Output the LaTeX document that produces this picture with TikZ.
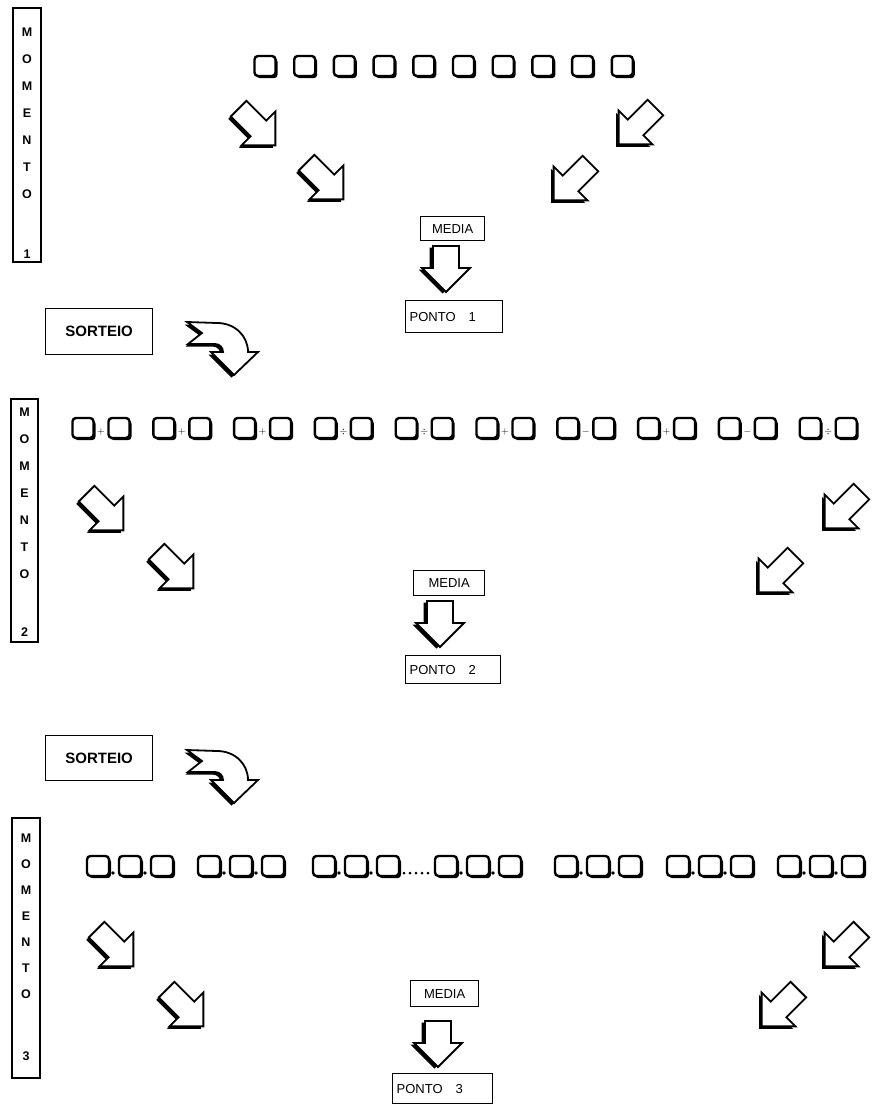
\documentclass[tikz,border=0pt]{standalone}
\usepackage{fontspec}
\setmainfont{Liberation Sans}
\tikzset{
  lbox/.style={draw, line width=1.3pt},
  momtxt/.style={font=\fontsize{12.5}{12.5}\selectfont\bfseries, inner sep=0pt},
  btxt/.style={font=\fontsize{13}{13}\selectfont, inner sep=0pt},
  sbtxt/.style={font=\fontsize{15}{15}\selectfont\bfseries, inner sep=0pt},
  optxt/.style={font=\fontsize{10}{10}\selectfont\bfseries, inner sep=0pt},
}
% square with shadow, centre x y, width w
\newcommand\sqq[3]{%
  \fill[rounded corners=3.5pt] (#1-#3/2+2,#2-10+2.2) rectangle (#1+#3/2+2,#2+10+2.2);
  \filldraw[fill=white,line width=2.4pt,rounded corners=3.5pt] (#1-#3/2,#2-10) rectangle (#1+#3/2,#2+10);}
% block arrow: centre x y, rotation
\newcommand\arrp{(-26,-11) -- (2,-11) -- (2,-24) -- (26,0) -- (2,24) -- (2,11) -- (-26,11) -- cycle}
\newcommand\barr[3]{%
  \begin{scope}[shift={(#1-2.5,#2+2.5)}, rotate=#3]\fill \arrp;\end{scope}
  \begin{scope}[shift={(#1,#2)}, rotate=#3]\filldraw[fill=white,line width=1.8pt] \arrp;\end{scope}}
\newcommand\darrp{(-13,-22) -- (-13,0) -- (-24,0) -- (0,24) -- (24,0) -- (13,0) -- (13,-22) -- cycle}
\newcommand\darr[2]{%
  \begin{scope}[shift={(#1-3.5,#2+1.5)}]\fill \darrp;\end{scope}
  \begin{scope}[shift={(#1,#2)}]\filldraw[fill=white,line width=1.8pt] \darrp;\end{scope}}
\newcommand\bentp{(0,0) -- (30,1) .. controls (48,1) and (61,14) .. (61,30) -- (71,30) -- (47,53) -- (24,30) -- (36,30) .. controls (36,26) and (33,22) .. (28,22) -- (1,22) -- (15,11) -- cycle}
\newcommand\bent[2]{%
  \begin{scope}[shift={(#1-2.5,#2+2.5)}]\fill \bentp;\end{scope}
  \begin{scope}[shift={(#1,#2)}]\filldraw[fill=white,line width=1.8pt] \bentp;\end{scope}}
\newcommand\pairr[3]{%
  \sqq{#1+11}{#2}{21}\sqq{#1+47}{#2}{21}%
  \node[optxt] at (#1+29,#2+4) {#3};}
\newcommand\triple[2]{%
  \sqq{#1+11}{#2}{22}\sqq{#1+43}{#2}{22}\sqq{#1+75}{#2}{22}%
  \fill (#1+26,#2+7) circle (1.8);\fill (#1+58,#2+7) circle (1.8);}
\begin{document}
\begin{tikzpicture}[x=1pt,y=-1pt]
\useasboundingbox (0,0) rectangle (872,1105);
\fill[white] (0,0) rectangle (872,1105);
% ===== MOMENTO 1 =====
\draw[lbox] (13,8) rectangle (41,262);
\foreach \l [count=\i from 0] in {M,O,M,E,N,T,O}
  \node[momtxt] (m1\i) at (27,32+27*\i) {\l};
\node[momtxt] (m1n) at (27,254) {1};
\foreach \i in {0,...,9} \sqq{265+39.7*\i}{66}{21};
\barr{257}{127}{-45}\barr{325}{181}{-45}
\barr{637}{126}{-135}\barr{572}{182}{-135}
\node[lbox, btxt, minimum width=64pt, minimum height=24pt, anchor=north west] (media1) at (420,216) {MEDIA};
\darr{446}{268}
\node[lbox, btxt, minimum width=97pt, minimum height=32pt, anchor=north west, text width=89pt, align=left] (ponto1) at (405,300) {PONTO\ \ \ 1};
\node[lbox, sbtxt, minimum width=107pt, minimum height=46pt, anchor=north west] (sort1) at (45,308) {SORTEIO};
\bent{187}{322}
% ===== MOMENTO 2 =====
\draw[lbox] (11,399) rectangle (38,642);
\foreach \l [count=\i from 0] in {M,O,M,E,N,T,O}
  \node[momtxt] (m2\i) at (24.5,412+27*\i) {\l};
\node[momtxt] (m2n) at (24.5,632) {2};
\foreach \o [count=\i from 0] in {$+$,$+$,$+$,$\div$,$\div$,$+$,$-$,$+$,$-$,$\div$}
  \pairr{72+80.8*\i}{428}{\o};
\barr{105}{512}{-45}\barr{175}{570}{-45}
\barr{843}{510}{-135}\barr{777}{574}{-135}
\node[lbox, btxt, minimum width=71pt, minimum height=25pt, anchor=north west] (media2) at (413,570) {MEDIA};
\darr{440}{623}
\node[lbox, btxt, minimum width=95pt, minimum height=28pt, anchor=north west, text width=87pt, align=left] (ponto2) at (405,655) {PONTO\ \ \ 2};
\node[lbox, sbtxt, minimum width=107pt, minimum height=45pt, anchor=north west] (sort2) at (45,735) {SORTEIO};
\bent{187}{750}
% ===== MOMENTO 3 =====
\draw[lbox] (12,818) rectangle (40,1078);
\foreach \l [count=\i from 0] in {M,O,M,E,N,T,O}
  \node[momtxt] (m3\i) at (26,838+26*\i) {\l};
\node[momtxt] (m3n) at (26,1056) {3};
\foreach \x in {87,198,313,435,555,667,778} \triple{\x}{866};
\foreach \x in {404,410,416,422,428} \fill (\x,873) circle (1.5);
\barr{115}{948}{-45}\barr{185}{1008}{-45}
\barr{843}{948}{-135}\barr{780}{1008}{-135}
\node[lbox, btxt, minimum width=68pt, minimum height=26pt, anchor=north west] (media3) at (410,980) {MEDIA};
\darr{438}{1043}
\node[lbox, btxt, minimum width=100pt, minimum height=30pt, anchor=north west, text width=92pt, align=left] (ponto3) at (392,1073) {PONTO\ \ \ 3};
\end{tikzpicture}
\end{document}
